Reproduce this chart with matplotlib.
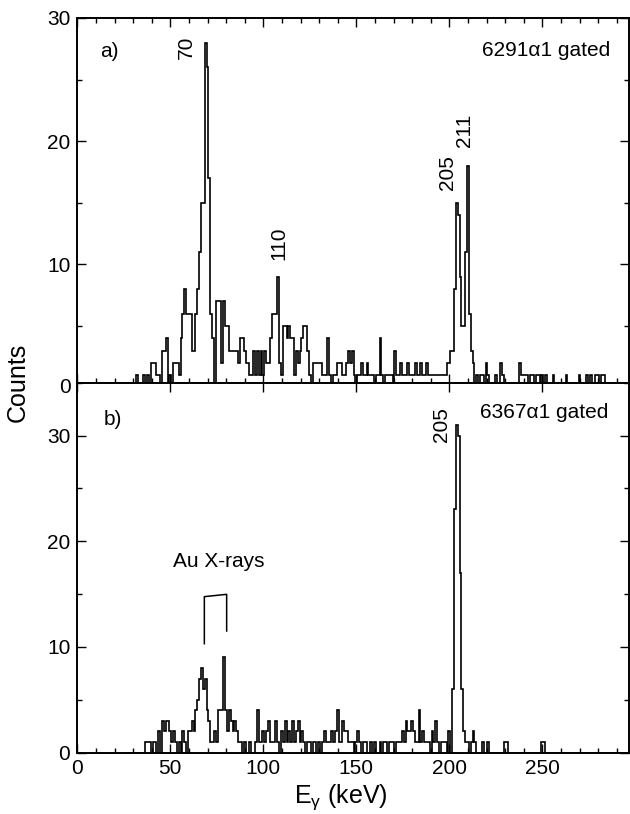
import numpy as np
import matplotlib
matplotlib.use("Agg")
import matplotlib.pyplot as plt
from matplotlib.ticker import MultipleLocator

plt.rcParams['font.family'] = ['Liberation Sans', 'DejaVu Sans']
plt.rcParams['mathtext.fontset'] = 'custom'
plt.rcParams['mathtext.rm'] = 'Liberation Sans'
plt.rcParams['mathtext.it'] = 'Liberation Sans:italic'

# ---- spectrum a): 6291 alpha1 gated (1 keV bins, non-empty bins only) ----
energy_a = [32, 36, 38, 40, 41, 42, 43, 44, 46, 47, 48, 50, 52, 53, 54, 55, 56, 57, 58, 59,
            60, 61, 62, 63, 64, 65, 66, 67, 68, 69, 70, 71, 72, 73, 75, 76, 77, 78, 79, 80,
            81, 82, 83, 84, 85, 86, 87, 88, 89, 90, 91, 92, 93, 94, 95, 96, 97, 98, 99, 100,
            101, 102, 103, 104, 105, 106, 107, 108, 109, 110, 111, 112, 113, 114, 115, 116, 117, 118, 119, 120,
            121, 122, 123, 124, 125, 127, 128, 129, 130, 131, 132, 133, 134, 135, 136, 138, 139, 140, 141, 142,
            143, 144, 145, 146, 147, 148, 149, 151, 152, 153, 154, 155, 156, 157, 158, 159, 161, 162, 163, 164,
            166, 167, 168, 169, 171, 172, 173, 174, 175, 176, 177, 178, 179, 180, 181, 182, 183, 184, 185, 186,
            187, 188, 189, 190, 191, 192, 193, 194, 195, 196, 197, 198, 199, 200, 201, 202, 203, 204, 205, 206,
            207, 208, 209, 210, 211, 212, 213, 215, 217, 218, 220, 221, 225, 228, 229, 238, 239, 240, 241, 242,
            244, 245, 247, 248, 250, 252, 256, 263, 270, 274, 276, 279, 280, 282, 283]
counts_a = [1, 1, 1, 2, 2, 2, 1, 1, 3, 3, 4, 1, 2, 2, 2, 1, 4, 6, 8, 6,
            6, 6, 3, 3, 6, 8, 11, 15, 15, 28, 26, 17, 6, 4, 7, 7, 7, 2, 7, 5,
            5, 3, 3, 3, 3, 3, 2, 4, 4, 3, 2, 2, 1, 1, 3, 1, 3, 1, 3, 1,
            3, 2, 2, 4, 6, 6, 6, 9, 2, 1, 5, 5, 4, 5, 4, 4, 1, 3, 2, 3,
            4, 5, 5, 3, 1, 2, 2, 2, 2, 2, 1, 1, 1, 4, 1, 1, 1, 2, 2, 2,
            1, 1, 2, 3, 2, 3, 1, 1, 1, 2, 1, 1, 2, 1, 1, 1, 1, 1, 4, 1,
            1, 1, 1, 1, 3, 1, 1, 2, 1, 1, 1, 2, 1, 1, 1, 2, 1, 1, 2, 1,
            1, 2, 1, 1, 1, 1, 1, 1, 1, 1, 1, 1, 2, 2, 3, 3, 8, 15, 14, 9,
            5, 5, 11, 18, 6, 3, 2, 1, 1, 1, 2, 1, 1, 2, 1, 2, 1, 1, 1, 1,
            1, 1, 1, 1, 1, 1, 1, 1, 1, 1, 1, 1, 1, 1, 1]

# ---- spectrum b): 6367 alpha1 gated ----
energy_b = [37, 38, 39, 41, 42, 44, 46, 47, 48, 49, 50, 51, 52, 53, 55, 57, 58, 60, 61, 62,
            63, 64, 65, 66, 67, 68, 69, 70, 71, 72, 73, 74, 75, 76, 77, 78, 79, 80, 81, 82,
            83, 84, 85, 86, 87, 88, 90, 93, 96, 97, 98, 99, 100, 101, 102, 103, 104, 105, 106, 107,
            108, 110, 111, 112, 113, 114, 115, 116, 117, 118, 119, 120, 121, 122, 124, 125, 127, 128, 130, 132,
            133, 134, 135, 136, 137, 138, 139, 140, 141, 142, 143, 144, 145, 146, 147, 148, 150, 151, 152, 154,
            155, 158, 160, 163, 165, 166, 168, 169, 170, 172, 173, 174, 175, 176, 177, 178, 179, 180, 181, 182,
            183, 184, 185, 186, 187, 188, 189, 191, 192, 193, 194, 196, 197, 198, 200, 202, 203, 204, 205, 206,
            207, 208, 209, 210, 212, 213, 214, 218, 221, 230, 231, 250, 251]
counts_b = [1, 1, 1, 1, 1, 2, 3, 2, 3, 3, 2, 1, 2, 1, 1, 2, 1, 2, 2, 3,
            2, 4, 5, 7, 8, 6, 7, 4, 3, 1, 1, 2, 1, 4, 4, 4, 9, 4, 2, 4,
            3, 2, 3, 2, 1, 1, 1, 1, 1, 4, 1, 1, 2, 1, 2, 3, 1, 1, 1, 3,
            1, 2, 1, 3, 1, 2, 1, 3, 1, 2, 3, 1, 2, 1, 1, 1, 1, 1, 1, 1,
            2, 1, 1, 1, 2, 1, 2, 4, 1, 1, 3, 2, 2, 1, 1, 1, 1, 2, 1, 1,
            1, 1, 1, 1, 1, 1, 1, 1, 1, 1, 1, 1, 2, 1, 3, 2, 2, 3, 2, 1,
            1, 4, 1, 2, 1, 1, 1, 2, 1, 3, 1, 1, 1, 1, 2, 6, 23, 31, 30, 17,
            6, 2, 1, 1, 1, 2, 1, 1, 1, 1, 1, 1, 1]

x_ticklabels = ["0", "50", "100", "150", "200", "250"]

# bin edges of the 1 keV histogram
edges = np.arange(24.5, 296.5, 1.0)


def to_bins(energies, counts):
    vals = np.zeros(len(edges) - 1)
    for e, c in zip(energies, counts):
        vals[int(round(e - 25))] = c
    return vals


W, H = 630, 814
fig = plt.figure(figsize=(W / 100, H / 100), dpi=100)

x0, x1 = 77.3, 629.0
ya_top, mid, yb_bot = 18.0, 382.7, 752.5
ax_a = fig.add_axes([x0 / W, 1 - mid / H, (x1 - x0) / W, (mid - ya_top) / H])
ax_b = fig.add_axes([x0 / W, 1 - yb_bot / H, (x1 - x0) / W, (yb_bot - mid) / H])

xmax = (x1 - x0) / 1.86
tick_fs = 15

for ax, vals in ((ax_a, to_bins(energy_a, counts_a)), (ax_b, to_bins(energy_b, counts_b))):
    ax.stairs(vals, edges, baseline=0, color='black', lw=1.2)
    ax.set_xlim(0, xmax)
    ax.xaxis.set_major_locator(MultipleLocator(50))
    ax.xaxis.set_minor_locator(MultipleLocator(10))
    ax.yaxis.set_major_locator(MultipleLocator(10))
    ax.yaxis.set_minor_locator(MultipleLocator(5))
    ax.tick_params(which='both', direction='in', top=True, right=True,
                   width=1.0, labelsize=tick_fs, pad=5)
    ax.tick_params(which='major', length=6.5)
    ax.tick_params(which='minor', length=3.6)
    for s in ax.spines.values():
        s.set_linewidth(1.4)

ax_a.set_ylim(0.39, 30)
ax_b.set_ylim(0, 35)
ax_a.tick_params(labelbottom=False)
ax_b.tick_params(which='minor', top=False)
ax_b.set_xticks([0, 50, 100, 150, 200, 250])
ax_b.set_xticklabels(x_ticklabels)

# zero label of the upper panel sits just under its lower edge
ax_a.text(-0.011, 0, "0", transform=ax_a.get_yaxis_transform(), ha='right', va='center',
          fontsize=tick_fs, clip_on=False)

txt_fs = 15
ax_a.text(12.2, 27.3, "a)", fontsize=txt_fs, va='center', ha='left')
ax_a.text(286.5, 27.4, "6291\u03b11 gated", fontsize=txt_fs, va='center', ha='right')
ax_a.text(58.7, 26.7, "70", rotation=90, fontsize=txt_fs, ha='center', va='bottom')
ax_a.text(108.5, 10.35, "110", rotation=90, fontsize=txt_fs, ha='center', va='bottom')
ax_a.text(198.8, 16.0, "205", rotation=90, fontsize=txt_fs, ha='center', va='bottom')
ax_a.text(208.0, 19.5, "211", rotation=90, fontsize=txt_fs, ha='center', va='bottom')

ax_b.text(14.0, 31.5, "b)", fontsize=txt_fs, va='center', ha='left')
ax_b.text(285.5, 32.2, "6367\u03b11 gated", fontsize=txt_fs, va='center', ha='right')
ax_b.text(195.9, 29.4, "205", rotation=90, fontsize=txt_fs, ha='center', va='bottom')
ax_b.text(51.5, 17.6, "Au X-rays", fontsize=txt_fs, va='baseline', ha='left')
ax_b.plot([68.3, 68.3, 80.3, 80.3], [10.3, 14.75, 14.97, 11.5], color='black', lw=1.1)

fig.text(18 / W, 1 - 382 / H, "Counts", rotation=90, fontsize=18, ha='center', va='center')
fig.text(341 / W, 1 - 797 / H, r"E$_{\mathrm{\gamma}}$ (keV)", fontsize=18, ha='center', va='center')

fig.savefig("out.png", dpi=100)
